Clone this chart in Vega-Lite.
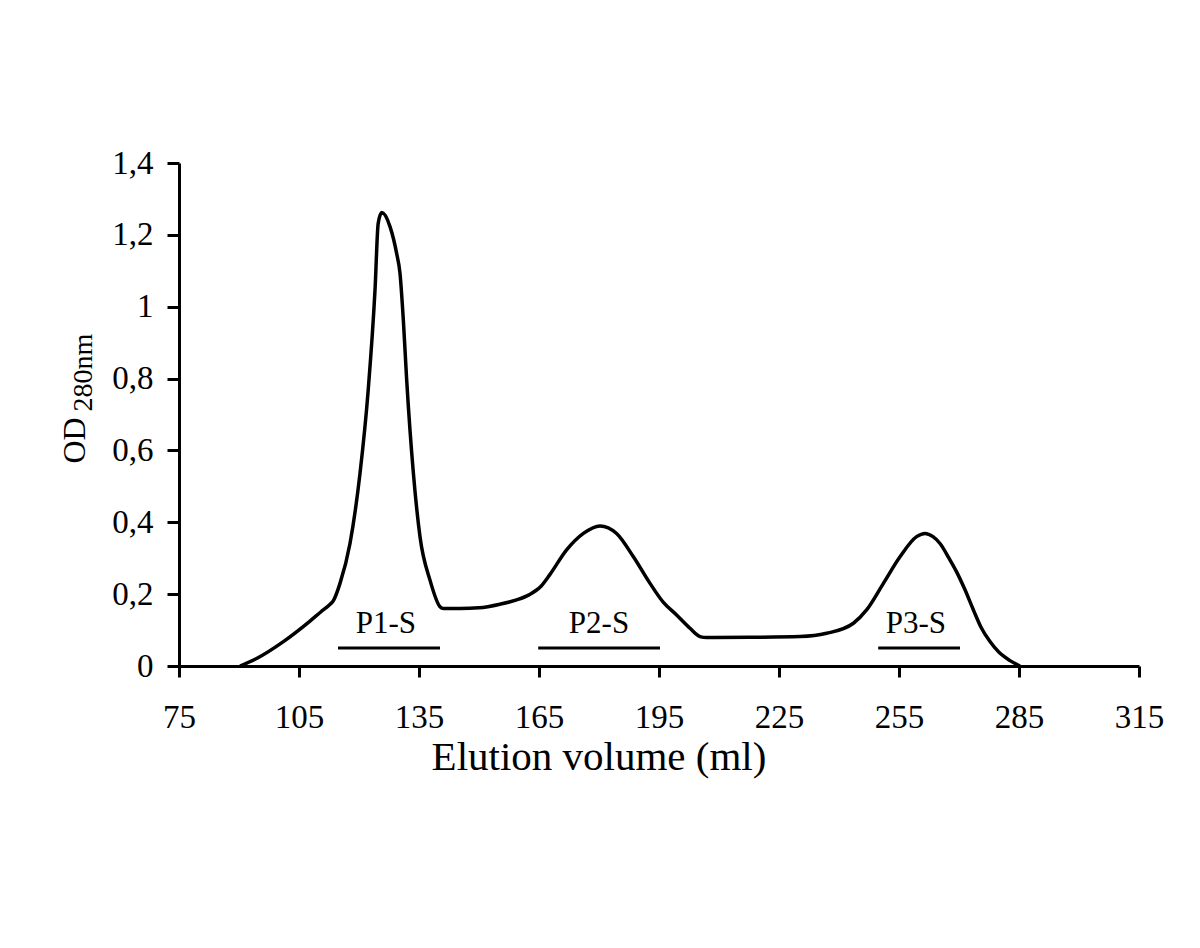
{
  "$schema": "https://vega.github.io/schema/vega-lite/v6.json",
  "width": 960,
  "height": 503,
  "autosize": "none",
  "padding": {"left": 179, "top": 163, "right": 61, "bottom": 282},
  "background": "white",
  "config": {
    "view": {"stroke": null},
    "font": "Liberation Serif",
    "axis": {"labelFont": "Liberation Serif", "titleFont": "Liberation Serif", "labelColor": "#000", "titleColor": "#000", "domainColor": "#000", "tickColor": "#000", "grid": false, "titleFontWeight": "normal"}
  },
  "datasets": {
    "curve": [
      {"vol": 90.25, "od": 0},
      {"vol": 94.4, "od": 0.021},
      {"vol": 101.1, "od": 0.068},
      {"vol": 107.75, "od": 0.125},
      {"vol": 110.5, "od": 0.151},
      {"vol": 112.5, "od": 0.169},
      {"vol": 113.6, "od": 0.182},
      {"vol": 115.25, "od": 0.23},
      {"vol": 117.75, "od": 0.341},
      {"vol": 120.25, "od": 0.536},
      {"vol": 122.3, "od": 0.768},
      {"vol": 124.0, "od": 1.046},
      {"vol": 124.8, "od": 1.232},
      {"vol": 125.7, "od": 1.262},
      {"vol": 127.75, "od": 1.223},
      {"vol": 129.4, "od": 1.149},
      {"vol": 130.25, "od": 1.093},
      {"vol": 131.1, "od": 0.96},
      {"vol": 131.9, "od": 0.8},
      {"vol": 133.6, "od": 0.536},
      {"vol": 135.25, "od": 0.36},
      {"vol": 137.75, "od": 0.239},
      {"vol": 140.25, "od": 0.165},
      {"vol": 141.1, "od": 0.16},
      {"vol": 145.25, "od": 0.16},
      {"vol": 150.0, "od": 0.162},
      {"vol": 155.25, "od": 0.172},
      {"vol": 159.4, "od": 0.184},
      {"vol": 162.5, "od": 0.198},
      {"vol": 165.5, "od": 0.222},
      {"vol": 167.75, "od": 0.255},
      {"vol": 171.9, "od": 0.323},
      {"vol": 176.1, "od": 0.369},
      {"vol": 180.25, "od": 0.39},
      {"vol": 184.4, "od": 0.369},
      {"vol": 188.6, "od": 0.304},
      {"vol": 192.75, "od": 0.23},
      {"vol": 196.1, "od": 0.177},
      {"vol": 199.4, "od": 0.142},
      {"vol": 202.75, "od": 0.105},
      {"vol": 205.25, "od": 0.082},
      {"vol": 206.9, "od": 0.079},
      {"vol": 217.75, "od": 0.08},
      {"vol": 230.25, "od": 0.082},
      {"vol": 236.9, "od": 0.091},
      {"vol": 243.6, "od": 0.119},
      {"vol": 246.9, "od": 0.156},
      {"vol": 251.1, "od": 0.23},
      {"vol": 255.25, "od": 0.304},
      {"vol": 259.4, "od": 0.36},
      {"vol": 261.5, "od": 0.369},
      {"vol": 263.5, "od": 0.36},
      {"vol": 265.25, "od": 0.341},
      {"vol": 267.5, "od": 0.3},
      {"vol": 269.4, "od": 0.262},
      {"vol": 271.5, "od": 0.212},
      {"vol": 273.6, "od": 0.156},
      {"vol": 275.5, "od": 0.108},
      {"vol": 277.75, "od": 0.068},
      {"vol": 280.0, "od": 0.038},
      {"vol": 282.75, "od": 0.015},
      {"vol": 285.25, "od": 0}
    ],
    "fractions": [
      {"label": "P1-S", "vol": 114.75, "vol2": 140.25, "od": 0.05, "labelVol": 126.7, "labelOd": 0.093},
      {"label": "P2-S", "vol": 164.8, "vol2": 195.25, "od": 0.05, "labelVol": 180.0, "labelOd": 0.093},
      {"label": "P3-S", "vol": 249.8, "vol2": 270.25, "od": 0.05, "labelVol": 259.2, "labelOd": 0.093}
    ]
  },
  "layer": [
    {
      "data": {"name": "curve"},
      "mark": {"type": "line", "color": "#000", "strokeWidth": 3.5, "interpolate": "monotone"},
      "encoding": {
        "x": {
          "field": "vol", "type": "quantitative",
          "scale": {"domain": [75, 315], "nice": false, "zero": false},
          "axis": {
            "values": [75, 105, 135, 165, 195, 225, 255, 285, 315],
            "tickSize": 11, "tickWidth": 3, "domainWidth": 3,
            "labelFontSize": 33, "labelPadding": 24, "labelFlush": false, "labelOverlap": false,
            "title": "Elution volume (ml)", "titleFontSize": 41,
            "titleX": 419.5, "titleY": 103, "titleAlign": "center", "titleBaseline": "alphabetic"
          }
        },
        "y": {
          "field": "od", "type": "quantitative",
          "scale": {"domain": [0, 1.4], "nice": false},
          "axis": {
            "orient": "left",
            "values": [0, 0.2, 0.4, 0.6, 0.8, 1, 1.2, 1.4],
            "labelExpr": "replace(format(datum.value, '~g'), '.', ',')",
            "tickSize": 12, "tickWidth": 3, "domainWidth": 3,
            "labelFontSize": 33, "labelPadding": 14, "labelFlush": false, "labelOverlap": false,
            "title": "OD", "titleFontSize": 32, "titleAngle": -90,
            "titleX": -105, "titleY": 277, "titleAlign": "center", "titleBaseline": "middle"
          }
        }
      }
    },
    {
      "data": {"name": "fractions"},
      "mark": {"type": "rule", "color": "#000", "strokeWidth": 3},
      "encoding": {
        "x": {"field": "vol", "type": "quantitative"},
        "x2": {"field": "vol2"},
        "y": {
          "field": "od", "type": "quantitative",
          "axis": {
            "orient": "left",
            "labels": false, "ticks": false, "domain": false,
            "title": "280nm", "titleFontSize": 28, "titleAngle": -90,
            "titleX": -88, "titleY": 209, "titleAlign": "center", "titleBaseline": "alphabetic"
          }
        }
      }
    },
    {
      "data": {"name": "fractions"},
      "mark": {"type": "text", "color": "#000", "fontSize": 31, "font": "Liberation Serif", "baseline": "alphabetic", "align": "center"},
      "encoding": {
        "x": {"field": "labelVol", "type": "quantitative"},
        "y": {"field": "labelOd", "type": "quantitative", "axis": null},
        "text": {"field": "label"}
      }
    }
  ],
  "resolve": {"axis": {"y": "independent"}}
}
